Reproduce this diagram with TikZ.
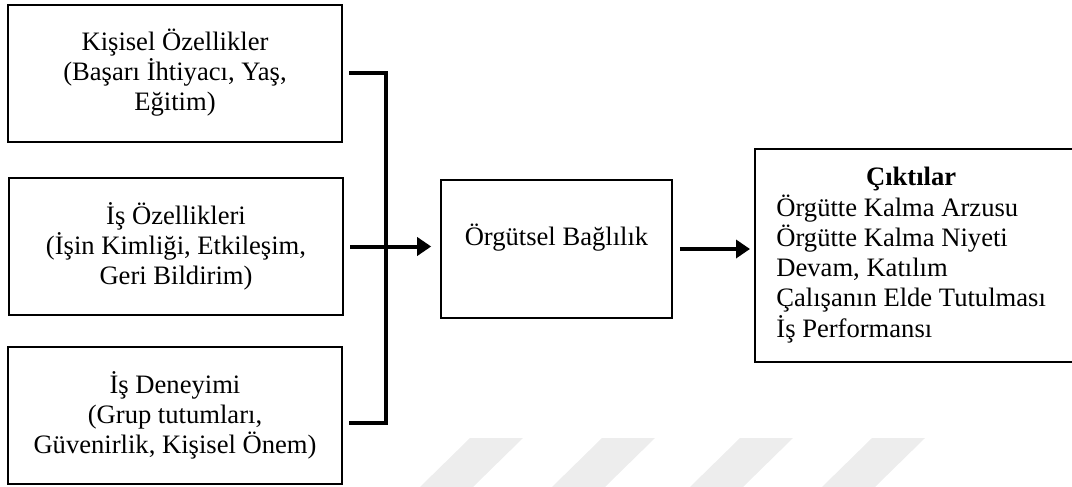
\documentclass[tikz,border=0pt]{standalone}
\usepackage{fontspec}
\setmainfont{Liberation Serif}
\usepackage{xcolor}
\usepackage{tikz}
\usetikzlibrary{arrows.meta, positioning, calc}
\definecolor{mydark}{RGB}{0,0,0}
\definecolor{wmgray}{RGB}{237,237,237}
\tikzset{
  block/.style={rectangle, draw=mydark, fill=white, align=center,
    minimum width=167pt, minimum height=68.5pt, inner sep=0pt,
    font=\fontsize{13.3}{15}\selectfont, line width=1pt},
  midblock/.style={rectangle, draw=mydark, fill=white, align=center,
    minimum width=115.5pt, minimum height=69pt, inner sep=0pt, text depth=14pt,
    font=\fontsize{13.3}{15}\selectfont, line width=0.8pt},
  outblock/.style={rectangle, fill=white,
    inner xsep=10.5pt, inner ysep=0pt, minimum height=106.5pt,
    font=\fontsize{13.3}{15}\selectfont},
  frame/.style={line width=1pt, color=mydark},
  arrow/.style={-{Triangle[length=7pt,width=9pt]}, line width=2pt, color=mydark},
  line/.style={line width=2pt, color=mydark}
}

\begin{document}
\begin{tikzpicture}[x=0.5pt, y=-0.5pt]
  \useasboundingbox (0,0) rectangle (1072,487);
  \clip (0,0) rectangle (1072,487);

  % Faint stripes along the bottom edge
  \foreach \sx in {470,602,740,872}
    \fill[wmgray] (\sx,438) -- (\sx+53,438) -- (\sx+3,487) -- (\sx-50,487) -- cycle;

  % Antecedent boxes
  \node[block] (kisisel) at (175,73) {Kişisel Özellikler\\(Başarı İhtiyacı, Yaş,\\Eğitim)};
  \node[block] (isoz) at (176,246.5) {İş Özellikleri\\(İşin Kimliği, Etkileşim,\\Geri Bildirim)};
  \node[block] (deneyim) at (175,415) {İş Deneyimi\\(Grup tutumları,\\Güvenirlik, Kişisel Önem)};

  % Commitment and outcomes (outcome box runs off the right edge)
  \node[midblock] (baglilik) at (556.5,249) {Örgütsel Bağlılık};
  \node[outblock, anchor=west] (cikti) at (755,255.5) {\makebox[150pt][l]{%
    \begin{tabular}{@{}l@{}}
      \multicolumn{1}{c}{\textbf{Çıktılar}}\\
      Örgütte Kalma Arzusu\\
      Örgütte Kalma Niyeti\\
      Devam, Katılım\\
      Çalışanın Elde Tutulması\\
      İş Performansı
    \end{tabular}}};
  \draw[frame] (cikti.north east) -- (cikti.north west) -- (cikti.south west) -- (cikti.south east);

  % Bracket joining the three inputs
  \coordinate (jtop) at (386,73);
  \coordinate (jbot) at (386,423);
  \draw[line] ([xshift=3pt]kisisel.east) -- (jtop) -- (jbot) -- ([xshift=3pt]deneyim.east |- jbot);

  % Arrows
  \draw[arrow, shorten >=4.5pt] ([xshift=3pt]isoz.east) -- (baglilik.west |- isoz.east);
  \draw[arrow, shorten >=2.5pt] ([xshift=3.5pt]baglilik.east) -- (cikti.west |- baglilik.east);
\end{tikzpicture}
\end{document}
